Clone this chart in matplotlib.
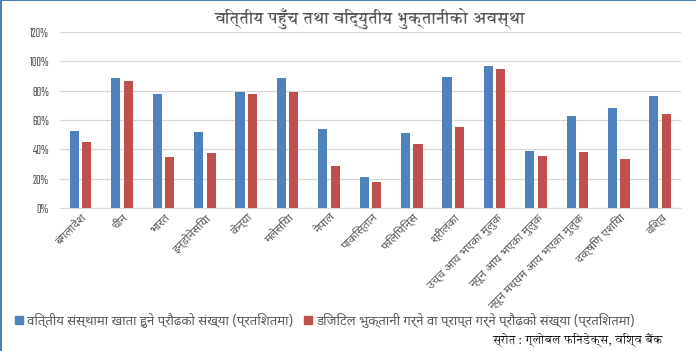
import matplotlib
matplotlib.use("Agg")
import matplotlib.pyplot as plt
from matplotlib.patches import Rectangle, Patch
from matplotlib.ticker import PercentFormatter
import numpy as np

# data (percent)
desh = ["बंगलादेश", "चीन", "भारत", "इन्डोनेसिया", "केन्या", "मलेसिया", "नेपाल",
        "पाकिस्तान", "फिलिपिन्स", "श्रीलंका", "उच्च आय भएका मुलुक",
        "न्यून आय भएका मुलुक", "न्यून मध्यम आय भएका मुलुक", "दक्षिण एशिया", "विश्व"]
khata = [52.5, 88.5, 77.6, 51.8, 79, 88.5, 53.9, 21.3, 51.2, 89.2, 96.7, 38.6, 62.7, 68.1, 76.3]
digital = [45, 86.5, 34.8, 37.5, 77.6, 79, 28.8, 17.9, 43.7, 55.2, 94.6, 35.2, 38.2, 33.5, 64.1]
yticks = [0, 20, 40, 60, 80, 100, 120]

naam1 = "वित्तीय संस्थामा खाता हुने प्रौढको संख्या (प्रतिशतमा)"
naam2 = "डिजिटल भुक्तानी गर्ने वा प्राप्त गर्ने प्रौढको संख्या (प्रतिशतमा)"
shirshak = "वित्तीय पहुँच तथा विद्युतीय भुक्तानीको अवस्था"
srot = "स्रोत : ग्लोबल फिनडेक्स, विश्व बैंक"

nilo = "#4F81BD"
rato = "#C0504D"
khairo = "#595959"
dev = ["Noto Sans Devanagari", "DejaVu Sans"]

fig = plt.figure(figsize=(6.96, 3.51), dpi=100)
ax = fig.add_axes([0.0862, 0.4066, 0.892, 0.5031])

x = np.arange(len(desh))
ax.bar(x - 0.15, khata, 0.22, color=nilo, zorder=3)
ax.bar(x + 0.15, digital, 0.22, color=rato, zorder=3)

ax.set_xlim(-0.5, len(desh) - 0.5)
ax.set_ylim(0, 120)
ax.set_yticks(yticks)
ax.yaxis.set_major_formatter(PercentFormatter(decimals=0))
ax.grid(axis="y", color="#D9D9D9", lw=0.9, zorder=0)
for s in ["top", "right", "left"]:
    ax.spines[s].set_visible(False)
ax.spines["bottom"].set_color("#D9D9D9")
ax.tick_params(axis="y", length=0, pad=8, labelcolor=khairo)
ax.tick_params(axis="x", length=0, pad=2, labelcolor=khairo)
for t in ax.get_yticklabels():
    t.set_family(["Teko", "DejaVu Sans"])
    t.set_fontsize(9.5)
ax.set_xticks(x)
ax.set_xticklabels(desh, rotation=45, ha="right", rotation_mode="anchor",
                   family=dev, fontsize=8.5)

fig.text(0.532, 0.948, shirshak, ha="center", va="center", family=["Annapurna SIL", "Noto Serif Devanagari"],
         fontsize=12, fontweight="bold", color=khairo)

haat = [Patch(color=nilo), Patch(color=rato)]
fig.legend(haat, [naam1, naam2], loc="center left", bbox_to_anchor=(0.005, 1 - 320 / 351),
           ncol=2, frameon=False, handlelength=0.6, handleheight=0.6, handletextpad=0.3,
           columnspacing=0.8, prop={"family": dev, "size": 9.5}, labelcolor=khairo)

fig.text(0.953, 1 - 340 / 351, srot, ha="right", va="center",
         family=["Annapurna SIL", "Noto Serif Devanagari"], fontsize=8.5, color="black")

# nilo kinara (left and top)
fig.add_artist(Rectangle((0, 0), 0.003, 1, transform=fig.transFigure, color="#4A7EBB", lw=0))
fig.add_artist(Rectangle((0, 0.996), 1, 0.004, transform=fig.transFigure, color="#4A7EBB", lw=0))

fig.savefig("out.png")
